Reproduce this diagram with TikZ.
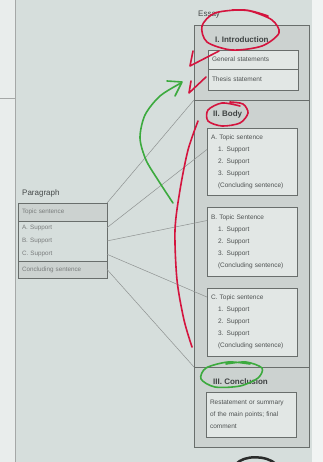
\documentclass[tikz,border=0pt]{standalone}
\usepackage{fontspec}
\setmainfont{Liberation Sans}
\usepackage{tikz}
\usetikzlibrary{positioning,shadows,calc}
\definecolor{paper}{RGB}{214,222,220}
\definecolor{band}{RGB}{204,210,208}
\definecolor{boxfill}{RGB}{226,231,229}
\definecolor{rule}{RGB}{105,110,108}
\definecolor{ink}{RGB}{78,82,82}
\definecolor{penred}{RGB}{212,20,62}
\definecolor{pengreen}{RGB}{60,170,62}
\newcommand{\subind}{\hspace*{7pt}}
\tikzset{
	row/.style={inner xsep=4pt, inner ysep=0pt, outer sep=0pt, text width=81pt,
		align=left, font=\fontsize{6.3}{8}\selectfont, text=ink!75},
	sect/.style={draw=rule, fill=band, minimum width=115pt, inner sep=0pt, outer sep=0pt},
	sub/.style={draw=rule, fill=boxfill, inner xsep=4pt, inner ysep=0pt, outer sep=0pt,
		text width=82pt, align=left, font=\fontsize{6.5}{12}\selectfont, text=ink,
		drop shadow={shadow xshift=1pt, shadow yshift=-1pt, opacity=.35}},
	head/.style={inner sep=0pt, font=\fontsize{8}{9}\bfseries, text=ink!80!black},
	lbl/.style={inner sep=0pt, font=\fontsize{8}{9}\selectfont, text=ink!90!black},
	link/.style={draw=rule!75, line width=.5pt},
	pen/.style={line width=1.6pt, line cap=round, line join=round, penred},
	gpen/.style={pen, pengreen}
}

\begin{document}
\begin{tikzpicture}[x=1pt,y=-1pt]
  \fill[paper] (0,0) rectangle (323,462);
  \useasboundingbox (0,0) rectangle (323,462);
  \fill[paper!55!white] (0,0) rectangle (15,462);
  \fill[paper!35!white] (312,0) rectangle (323,462);
  \draw[rule!60, line width=.6pt] (15,0) -- (15,462);
  \draw[rule!60, line width=.6pt] (0,98) -- (15,98);

  \node[lbl, anchor=west] (parLbl) at (22,193) {Paragraph};
  \node[row, fill=band, draw=rule, minimum height=18pt, anchor=north west] (topic) at (18,203) {Topic sentence};
  \node[row, minimum height=13.3pt, below=0pt of topic] (supA) {A. Support};
  \node[row, minimum height=13.3pt, below=0pt of supA] (supB) {B. Support};
  \node[row, minimum height=13.3pt, below=0pt of supB] (supC) {C. Support};
  \node[row, fill=band, draw=rule, minimum height=17pt, below=0pt of supC] (concl) {Concluding sentence};
  \draw[rule] (topic.north west) rectangle (concl.south east);

  \node[lbl, anchor=west] (essLbl) at (198,15) {Essay};
  \node[sect, minimum height=75pt, anchor=north west] (intro) at (194,25) {};
  \node[sect, minimum height=267pt, below=0pt of intro] (body) {};
  \node[sect, minimum height=80pt, below=0pt of body] (concSec) {};

  \node[head, anchor=west] (introHd) at (215,40) {I. Introduction};
  \node[head, anchor=west] (bodyHd) at (213,114) {II. Body};
  \node[head, anchor=west] (concHd) at (213,382) {III. Conclusion};

  \node[sub, minimum height=19pt, anchor=north west] (general) at (208,50) {General statements};
  \node[sub, minimum height=21pt, below=0pt of general] (thesis) {Thesis statement};
  \node[sub, minimum height=67pt, anchor=north west] (topA) at (207,128)
    {A. Topic sentence\\\subind 1. Support\\\subind 2. Support\\\subind 3. Support\\\subind (Concluding sentence)};
  \node[sub, minimum height=69pt, anchor=north west] (topB) at (207,207)
    {B. Topic Sentence\\\subind 1. Support\\\subind 2. Support\\\subind 3. Support\\\subind (Concluding sentence)};
  \node[sub, minimum height=68pt, anchor=north west] (topC) at (207,288)
    {C. Topic sentence\\\subind 1. Support\\\subind 2. Support\\\subind 3. Support\\\subind (Concluding sentence)};
  \node[sub, minimum height=45pt, anchor=north west] (restate) at (206,392)
    {Restatement or summary\\of the main points; final\\comment};

  \draw[link] (topic.north east) -- (intro.south west);
  \draw[link] (supA.east) -- (topA.165);
  \draw[link] (supB.east) -- (topB.155);
  \draw[link] (supC.east) -- (topC.151);
  \draw[link] (concl.east) -- (concSec.north west);

  \draw[rule!40!black, line width=2.5pt] (236,464) .. controls (244,455) and (266,455) .. (276,464);

  \draw[pen] plot[smooth] coordinates {(268,16) (245,10) (215,13) (202,26) (207,42) (232,50) (262,46) (279,33) (272,20) (250,11) (232,10)};
  \draw[pen] (193,51) -- (190,66) -- (219,51);
  \draw[pen] (191,81) -- (189,93) -- (206,77);
  \draw[pen] plot[smooth] coordinates {(240,106) (222,103) (208,110) (208,121) (222,126) (240,123) (248,113) (243,104) (230,102)};
  \draw[pen] plot[smooth] coordinates {(198,121) (188,150) (180,190) (175,230) (177,280) (184,320) (192,347)};
  \draw[gpen] plot[smooth] coordinates {(173,203) (158,180) (146,160) (140,138) (145,115) (160,96) (181,83)};
  \draw[gpen] (167,81) -- (182,82) -- (175,96);
  \draw[gpen] plot[smooth] coordinates {(250,364) (228,362) (206,368) (201,379) (215,387) (240,386) (258,378) (262,368) (246,362) (226,364)};
\end{tikzpicture}
\end{document}
